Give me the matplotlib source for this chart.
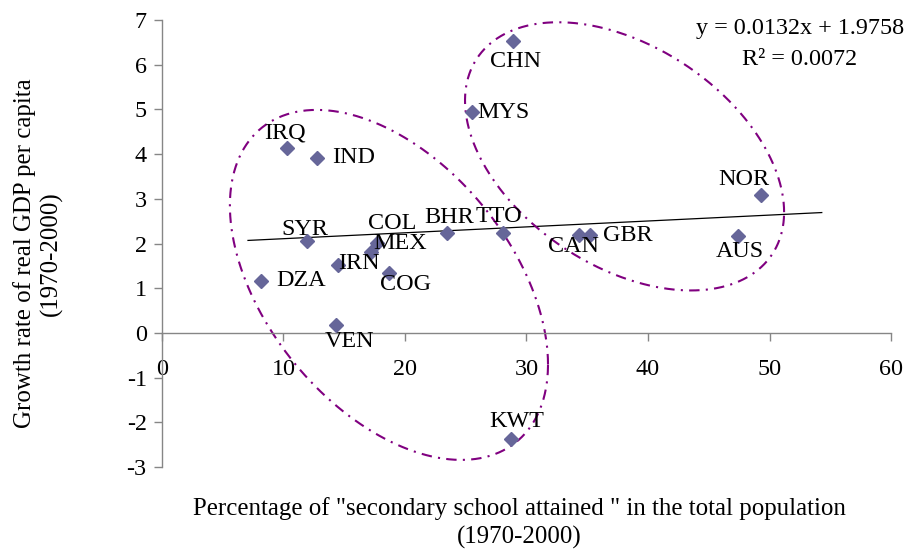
import numpy as np
import matplotlib
matplotlib.use("Agg")
import matplotlib.pyplot as plt

plt.rcParams['font.family'] = ['Liberation Serif', 'DejaVu Serif']
plt.rcParams['font.size'] = 17.4
plt.rcParams['axes.unicode_minus'] = False

# data
countries = ['IRQ', 'IND', 'SYR', 'DZA', 'IRN', 'VEN', 'COL', 'MEX', 'COG', 'BHR',
             'TTO', 'CAN', 'GBR', 'AUS', 'NOR', 'CHN', 'MYS', 'KWT']
school = [10.26, 12.73, 11.9, 8.12, 14.46, 14.3, 17.67, 17.17, 18.71, 23.43,
          28.1, 34.35, 35.23, 47.38, 49.3, 28.9, 25.49, 28.72]
growth = [4.13, 3.92, 2.06, 1.17, 1.51, 0.18, 2.02, 1.80, 1.34, 2.23,
          2.23, 2.18, 2.18, 2.17, 3.09, 6.52, 4.94, -2.37]

# label offsets (points)
label_dx = [-1.5, 27, -1.5, 29, 15, 10, 11, 21, 11.5, 1.5,
            -3, -4.5, 27, 1.5, -12, 1.5, 23, 4.5]
label_dy = [11, 0, 8, 0, 1.5, -12, 14, 6.5, -8.5, 11,
            12, -8, 0, -11.5, 11, -14.5, 0, 12.5]

slope, intercept = 0.0132, 1.9758
trend_x = np.array([7.08, 54.3])

# highlight ellipses: centre, half width, half height, phase
ellipses = [(18.68, 1.074, 13.09, 3.915, np.deg2rad(117)),
            (38.07, 3.95, 13.13, 3.0, np.deg2rad(114.6))]

fig = plt.figure(figsize=(9.12, 5.53), dpi=100)
ax = fig.add_axes([0.1776, 0.1555, 0.7994, 0.8083])

ax.plot(trend_x, slope * trend_x + intercept, color='black', lw=0.9)

t = np.linspace(0, 2 * np.pi, 500)
for cx, cy, w, h, phi in ellipses:
    ax.plot(cx + w * np.cos(t), cy + h * np.cos(t - phi), color='#800080',
            lw=1.5, dashes=(5, 3, 1, 3))

ax.plot(school, growth, 'D', color='#666699', ms=7.6, mec='#666699', clip_on=False, zorder=3)
for name, x, y, dx, dy in zip(countries, school, growth, label_dx, label_dy):
    ax.annotate(name, (x, y), xytext=(dx, dy), textcoords='offset points',
                ha='center', va='center')

ax.text(0.875, 0.982, 'y = 0.0132x + 1.9758', transform=ax.transAxes, ha='center', va='center')
ax.text(0.875, 0.911, 'R² = 0.0072', transform=ax.transAxes, ha='center', va='center')

ax.set_xlim(0, 60)
ax.set_ylim(-3, 7)
ax.set_xticks(range(0, 61, 10))
ax.set_yticks(range(-3, 8))

ax.spines['top'].set_visible(False)
ax.spines['right'].set_visible(False)
ax.spines['bottom'].set_position(('data', 0))
for s in ['left', 'bottom']:
    ax.spines[s].set_color('#868686')
    ax.spines[s].set_linewidth(1)
ax.tick_params(axis='both', colors='#868686', labelcolor='black', length=6, width=1)
ax.tick_params(axis='x', pad=13)
ax.tick_params(axis='y', pad=5)

ax.set_xlabel('Percentage of "secondary school attained " in the total population\n(1970-2000)',
              linespacing=1.3, va='top', fontsize=17.9)
ax.xaxis.set_label_coords(0.49, -0.068)
ax.set_ylabel('Growth rate of real GDP per capita\n(1970-2000)', linespacing=1.2, fontsize=17.9)
ax.yaxis.set_label_coords(-0.136, 0.478)

fig.savefig('out.png', dpi=100)
